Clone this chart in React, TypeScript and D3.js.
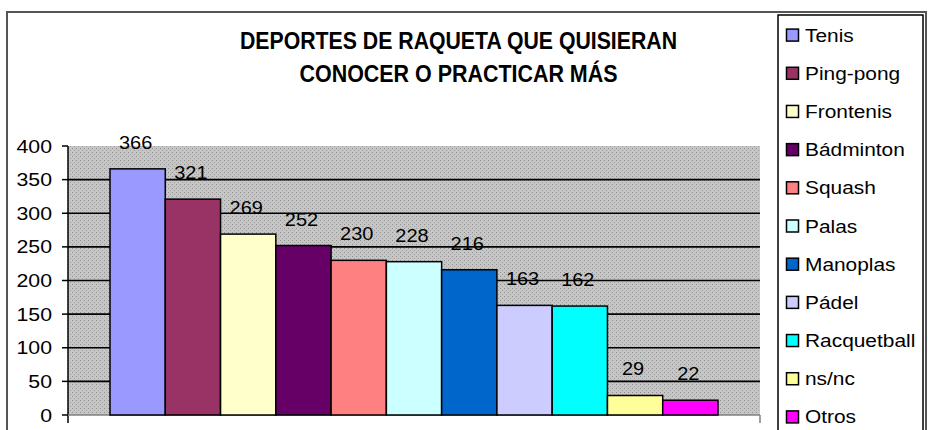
import React from 'react';
import * as d3 from 'd3';

// Datos del gráfico
const sports = ['Tenis', 'Ping-pong', 'Frontenis', 'Bádminton', 'Squash', 'Palas', 'Manoplas', 'Pádel', 'Racquetball', 'ns/nc', 'Otros'];
const votes = [366, 321, 269, 252, 230, 228, 216, 163, 162, 29, 22];
const barColors = ['#9999FF', '#993366', '#FFFFCC', '#660066', '#FF8080', '#CCFFFF', '#0066CC', '#CCCCFF', '#00FFFF', '#FFFF99', '#FF00FF'];
const yTicks = [0, 50, 100, 150, 200, 250, 300, 350, 400];
const titleLines = ['DEPORTES DE RAQUETA QUE QUISIERAN', 'CONOCER O PRACTICAR MÁS'];

const width = 928;
const height = 430;
const font = 'Arial, "Liberation Sans", sans-serif';

const App = () => {
    const plot = { left: 68, right: 760, top: 146, bottom: 415 };

    // one category with 11 series, so bars sit side by side with no gap
    const xScale = d3.scaleBand().domain(sports).range([plot.left, plot.right]).paddingInner(0).paddingOuter(0.76);
    const yScale = d3.scaleLinear().domain([0, 400]).range([plot.bottom, plot.top]);

    // legend rows
    const legendScale = d3.scaleBand().domain(sports).range([16, 436]);

    const label = (txt, x, y, anchor = 'middle', sx = 1.12) => (
        <text transform={`translate(${x},${y}) scale(${sx},1)`} textAnchor={anchor} fontFamily={font} fontSize={18.5} fill="#000">
            {txt}
        </text>
    );

    return (
        <svg width={width} height={height} style={{ position: 'absolute', left: 0, top: 0, background: '#fff' }}>
            <defs>
                <pattern id="dots" width={4} height={4} patternUnits="userSpaceOnUse">
                    <rect width={4} height={4} fill="#c6c6c6" />
                    <rect x={0} y={0} width={1} height={1} fill="#909090" />
                    <rect x={2} y={2} width={1} height={1} fill="#a0a0a0" />
                </pattern>
            </defs>

            {/* outer frame */}
            <rect x={7} y={12} width={919} height={440} fill="#fff" stroke="#555" strokeWidth={2} />

            {/* title */}
            {titleLines.map((t, i) => (
                <text
                    key={t}
                    x={458.5}
                    y={49 + i * 33}
                    textAnchor="middle"
                    fontFamily={font}
                    fontWeight="bold"
                    fontSize={24}
                    textLength={i === 0 ? 437 : 318}
                    lengthAdjust="spacingAndGlyphs"
                >
                    {t}
                </text>
            ))}

            {/* plot area */}
            <rect x={plot.left} y={plot.top} width={plot.right - plot.left} height={plot.bottom - plot.top} fill="url(#dots)" />

            {/* gridlines */}
            {yTicks.filter((t) => t > 0 && t < 400).map((t) => (
                <line key={`g-${t}`} x1={plot.left} x2={plot.right} y1={yScale(t)} y2={yScale(t)} stroke="#000" strokeWidth={1.6} />
            ))}

            {/* y axis */}
            <line x1={plot.left} x2={plot.left} y1={plot.top} y2={plot.bottom + 8} stroke="#000" strokeWidth={1.5} />
            {yTicks.map((t) => (
                <g key={`t-${t}`}>
                    <line x1={plot.left - 6} x2={plot.left} y1={yScale(t)} y2={yScale(t)} stroke="#000" strokeWidth={1.5} />
                    {label(t, 52, yScale(t) + 6.5, 'end', 1.15)}
                </g>
            ))}

            {/* x axis */}
            <line x1={plot.left} x2={plot.right} y1={plot.bottom} y2={plot.bottom} stroke="#808080" strokeWidth={1.5} />
            <line x1={plot.right} x2={plot.right} y1={plot.bottom} y2={plot.bottom + 8} stroke="#808080" strokeWidth={1.5} />

            {/* bars */}
            {sports.map((s, i) => (
                <rect
                    key={`b-${s}`}
                    x={xScale(s)}
                    y={yScale(votes[i])}
                    width={xScale.bandwidth()}
                    height={plot.bottom - yScale(votes[i])}
                    fill={barColors[i]}
                    stroke="#000"
                    strokeWidth={1.5}
                />
            ))}

            {/* value labels */}
            {sports.map((s, i) => (
                <g key={`l-${s}`}>{label(votes[i], xScale(s) + xScale.bandwidth() / 2 - 2, yScale(votes[i]) - 20, 'middle', 1.08)}</g>
            ))}

            {/* legend */}
            <rect x={778} y={15} width={145} height={440} fill="#fff" stroke="#000" strokeWidth={1.5} />
            {sports.map((s, i) => {
                const cy = legendScale(s) + legendScale.bandwidth() / 2;
                return (
                    <g key={`lg-${s}`}>
                        <rect x={786.5} y={cy - 6} width={12} height={12} fill={barColors[i]} stroke="#000" strokeWidth={1.5} />
                        {label(s, 805, cy + 6.5, 'start', 1.13)}
                    </g>
                );
            })}
        </svg>
    );
};

export default App;
